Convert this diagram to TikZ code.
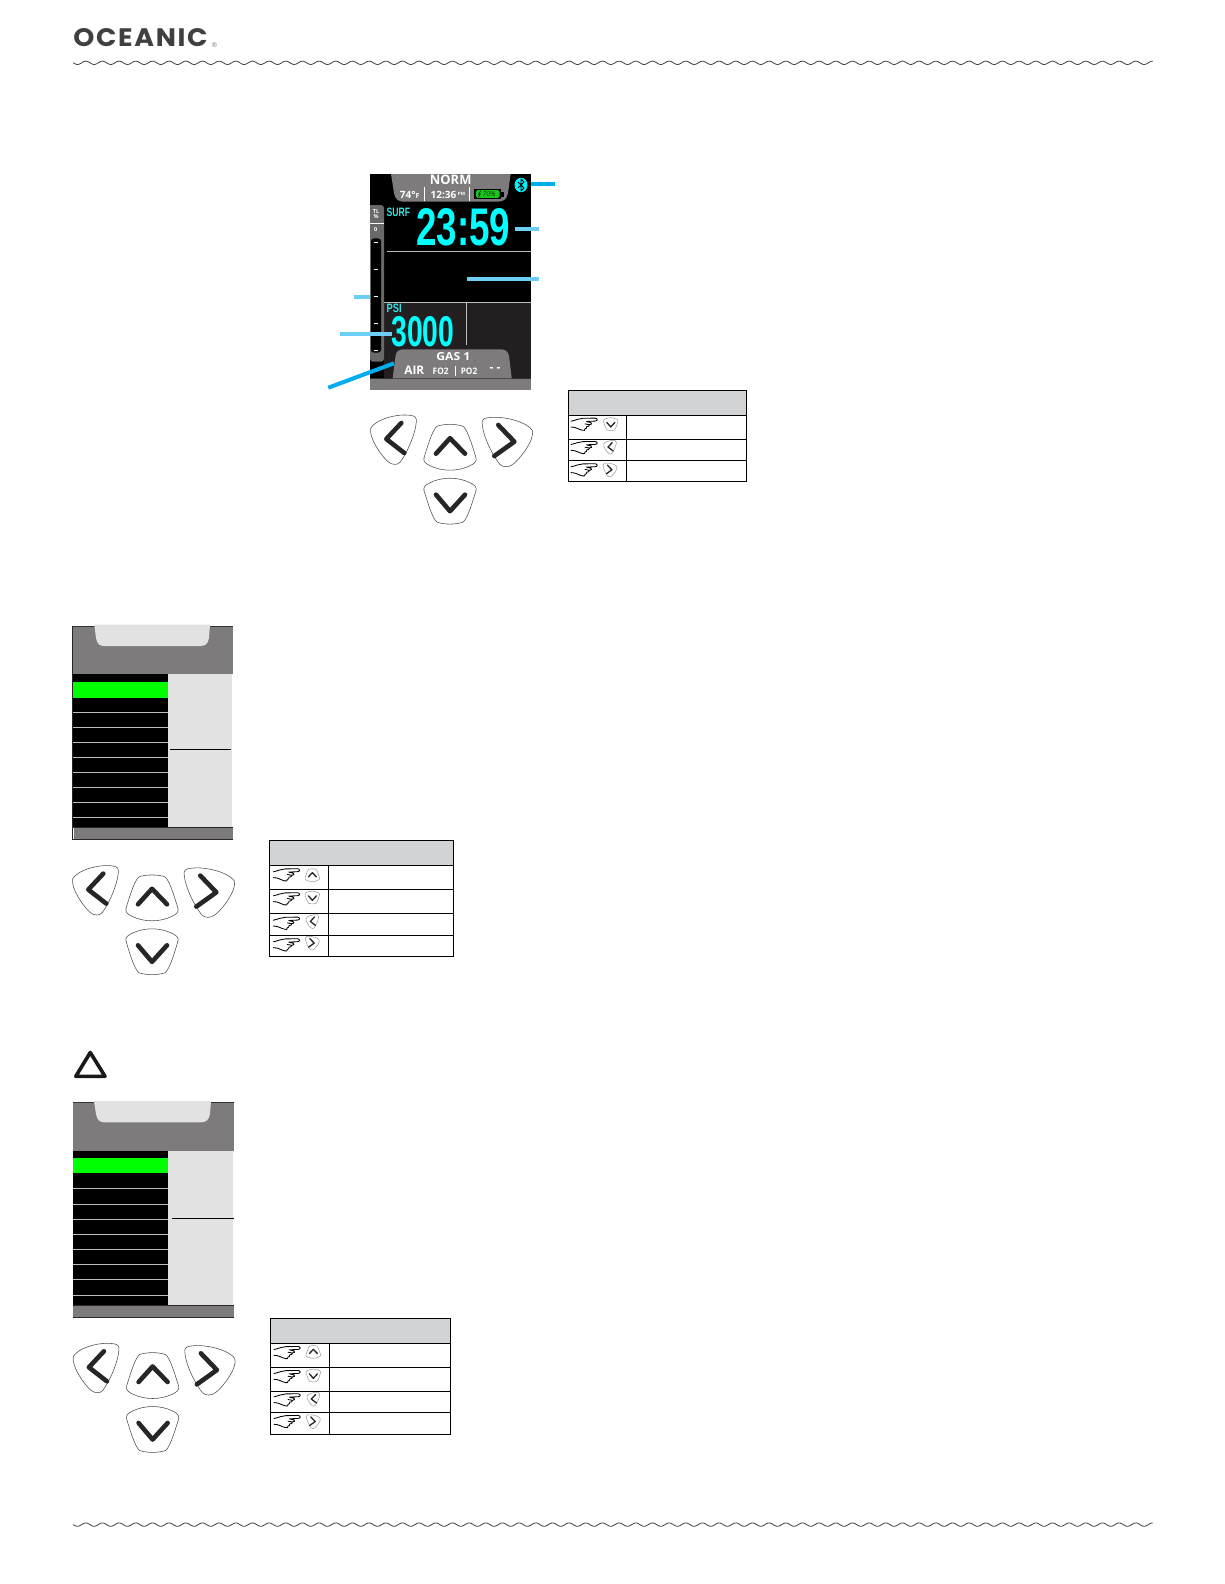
\documentclass[tikz,border=0pt]{standalone}
\usepackage{fontspec}
\setmainfont{Open Sans}
\newfontfamily\logofont[LetterSpace=6]{Poppins}
\newfontfamily\digitfont{Liberation Sans}
\definecolor{scrgrey}{HTML}{7D7B7B}
\definecolor{panelgrey}{HTML}{E2E2E2}
\definecolor{headgrey}{HTML}{D1D3D4}
\definecolor{dkpanel}{HTML}{231F20}
\definecolor{cyanb}{HTML}{00FFFF}
\definecolor{cyans}{HTML}{2FE6E6}
\definecolor{calldark}{HTML}{00AEEF}
\definecolor{calllight}{HTML}{6DCFF6}
\definecolor{inkgrey}{HTML}{404041}
\definecolor{rowline}{HTML}{BDBDBD}
\newcommand{\fitt}[3]{\resizebox{#1pt}{#2pt}{#3}}
\newcommand{\sidekey}{\draw[keyoutline] (-22.5,-12) .. controls (-18,-20) and (3,-27) .. (18,-24.5) .. controls (22,-24) and (23.5,-22) .. (23,-18) .. controls (22,-5) and (13,14) .. (7,22) .. controls (4,25.5) and (-1,25) .. (-5,22) .. controls (-12,16) and (-25,-3) .. (-22.5,-12) -- cycle;}
\newcommand{\vertkey}{\draw[keyoutline] (-13,-20.5) .. controls (-5,-23) and (5,-23) .. (13,-20.5) .. controls (18,-17) and (24,5) .. (26,11) .. controls (27,15) and (24,17) .. (20,19) .. controls (8,25) and (-8,25) .. (-20,19) .. controls (-24,17) and (-27,15) .. (-26,11) .. controls (-24,5) and (-18,-17) .. (-13,-20.5) -- cycle;}
\newcommand{\keyLeft}[4]{\begin{scope}[shift={(#1,#2)},xscale=#3,yscale=#3]
\sidekey
\draw[keymark,line width=#4pt] (8,-17) -- (-7,-1) -- (11,13);
\end{scope}}
\newcommand{\keyRight}[4]{\begin{scope}[shift={(#1,#2)},xscale=-1.1*#3,yscale=#3]
\sidekey
\draw[keymark,line width=#4pt] (8.4,-17.3) -- (-6.2,-0.6) -- (12,13.7);
\end{scope}}
\newcommand{\keyUp}[4]{\begin{scope}[shift={(#1,#2)},xscale=#3,yscale=#3]
\vertkey
\draw[keymark,line width=#4pt] (-14,7) -- (0,-8.5) -- (15,7);
\end{scope}}
\newcommand{\keyDown}[4]{\begin{scope}[shift={(#1,#2)},xscale=#3,yscale=-#3]
\vertkey
\draw[keymark,line width=#4pt] (-14,7) -- (0,-9.5) -- (15,7);
\end{scope}}
\newcommand{\keypad}[2]{\begin{scope}[shift={(#1,#2)}]
\keyLeft{393.3}{440}{1}{4.6}
\keyRight{507.5}{442.3}{1}{4.6}
\keyUp{450}{446.7}{1}{4.6}
\keyDown{450}{501.7}{1}{4.6}
\end{scope}}
\newcommand{\handicon}[2]{\begin{scope}[shift={(#1,#2)}]
\draw[line width=0.85pt,black,line cap=round,line join=round]
 (0,3.5) .. controls (5,2.5) and (8,0.6) .. (12,0.6) -- (24,0.4) .. controls (27,0.6) and (27,3.4) .. (24,3.4) -- (15.5,3.8)
 (15.5,3.8) -- (20,5) .. controls (21.5,5.6) and (20.5,7.2) .. (18.5,7)
 (18.5,7) -- (14,6.2) (18.5,7) .. controls (18.5,8.5) and (17,9) .. (15.8,8.8)
 (15.8,8.8) .. controls (16,10.4) and (15,11) .. (14,11) .. controls (14.5,12.6) and (13,13.2) .. (11.5,12.6) .. controls (7,11.5) and (5,9.3) .. (0,9.3);
\end{scope}}
\newcommand{\wavy}[1]{\draw[line width=0.8pt,inkgrey] plot[domain=73.3:1152.7,samples=700] (\x,{#1+1.7*sin(21.6*mod(\x-73.3,16.6667))});}
\tikzset{
 keyoutline/.style={draw=black!70,line width=0.55pt,fill=white},
 keymark/.style={draw=inkgrey!60!black,line cap=round,line join=round},
 tblline/.style={draw=black,line width=0.9pt},
 call/.style={line width=4pt},
 txt/.style={inner sep=0pt,outer sep=0pt,anchor=center},
 rowsep/.style={draw=rowline,line width=0.8pt},
 minikeys/.style={keyoutline/.style={draw=black!40,line width=0.5pt,fill=white}},
}
\begin{document}
\begin{tikzpicture}[x=1pt,y=-1pt]
\useasboundingbox (0,0) rectangle (1224,1584);
\fill[white] (0,0) rectangle (1224,1584);
% header
\node[txt,text=inkgrey] (logo) at (140.5,38) {\fitt{134}{18}{\logofont\bfseries OCEANIC}};
\node[txt,text=black!55] (regmark) at (214.5,45.5) {\fontsize{7}{7}\selectfont\digitfont ®};
\wavy{62.8}
\wavy{1524.6}
% main screen
\fill[black] (370,174) rectangle (531,378.3);
\fill[dkpanel] (384,302) rectangle (531,378.3);
\fill[scrgrey] (370,378.3) rectangle (531,390);
\draw[line width=0.8pt,black!60!scrgrey] (370,378.6) -- (531,378.6);
\fill[scrgrey] (391,174) -- (394,193) .. controls (395,199) and (398,201.7) .. (404,201.7) -- (497,201.7) .. controls (504,201.7) and (507,199) .. (508,193) -- (510.7,174) -- cycle;
\node[txt,white] (norm) at (450.7,180) {\fitt{41.5}{9.5}{\bfseries NORM}};
\node[txt,white] (temp) at (409.7,194.5) {\fontsize{10}{11}\selectfont\bfseries 74°\fontsize{7}{8}\selectfont F};
\draw[white,line width=0.9pt] (424.7,186.7) -- (424.7,200.7) (469.3,186.7) -- (469.3,200.7);
\node[txt,white] (clock) at (447.8,194.5) {\fontsize{10}{11}\selectfont\bfseries 12:36\,\raisebox{2.5pt}{\fontsize{4.5}{5}\selectfont PM}};
\fill[black] (474.3,189) rectangle (501,199);
\fill[black] (500,191.5) rectangle (503.5,196.5);
\fill[green!75!black!90!white,rounded corners=1.5pt] (475.8,190.2) rectangle (499.6,197.8);
\node[txt,black!85] (batt) at (489,194) {\fontsize{6.8}{7}\selectfont\itshape 70\%};
\draw[black,line width=0.6pt] (480.5,190.8) -- (478.6,194.3) -- (480.2,194) -- (478.4,197.2);
% bluetooth
\fill[cyanb!85!calldark] (521,185) ellipse (6.5 and 7.2);
\draw[black,line width=0.8pt,line join=round] (518,182) -- (524,188) -- (521,191) -- (521,179) -- (524,182) -- (518,188);
% TL bar
\fill[scrgrey!85!black] (370,205) [rounded corners=3pt] -- (384,205) -- (384,361.7) -- (370,361.7) [sharp corners] -- cycle;
\node[txt,white] (tl) at (376,214.2) {\parbox{12pt}{\centering\fontsize{5.5}{4.6}\selectfont\bfseries TL\\[0.4pt]\%}};
\draw[white,line width=0.8pt] (370,223.3) -- (384,223.3);
\node[txt,white] (zero) at (375.7,229.5) {\fontsize{5.5}{6}\selectfont\bfseries 0};
\fill[black,rounded corners=3pt] (371,238.3) rectangle (381,352.7);
\draw[white,line width=1pt] (373.7,242.3) -- (378.3,242.3) (373.7,269.3) -- (378.3,269.3) (373.7,296.7) -- (378.3,296.7) (373.7,323.3) -- (378.3,323.3) (373.7,350) -- (378.3,350);
% readings
\node[txt,cyans] (surf) at (398.4,212.5) {\fitt{23.5}{8.5}{\digitfont\bfseries SURF}};
\node[txt,cyanb] (time) at (463.3,227.6) {\fitt{94}{37}{\digitfont\bfseries 23:59}};
\draw[rowline,line width=0.9pt] (386.7,251.3) -- (531,251.3);
\draw[rowline,line width=1pt] (384,302) -- (531,302);
\node[txt,cyans] (psi) at (394.2,308.8) {\fitt{15}{8.5}{\digitfont\bfseries PSI}};
\node[txt,cyanb] (pressure) at (423,331.6) {\fitt{63}{30}{\digitfont\bfseries 3000}};
\draw[rowline,line width=0.9pt] (466.3,302) -- (466.3,345);
% gas tab
\fill[scrgrey] (392.7,378.3) -- (395.5,356) .. controls (396.3,351) and (399,349.3) .. (404,349.3) -- (500,349.3) .. controls (505,349.3) and (508,351) .. (509,356) -- (511.7,378.3) -- cycle;
\node[txt,white] (gas) at (453.3,357) {\fitt{34}{8}{\bfseries GAS 1}};
\node[txt,white] (air) at (414.3,370) {\fitt{20}{8.5}{\bfseries AIR}};
\node[txt,white] (fo) at (440.7,371) {\fitt{16}{6.5}{\bfseries FO2}};
\draw[white,line width=0.8pt] (455.3,366) -- (455.3,376);
\node[txt,white] (po) at (469,371) {\fitt{16.5}{6.5}{\bfseries PO2}};
\node[txt,white] (dash) at (495,370) {\fontsize{12}{12}\selectfont\bfseries - -};
% callouts
\draw[call,calldark] (531,183.7) -- (555,183.7);
\draw[call,calllight] (515,228.7) -- (539,228.7);
\draw[call,calllight] (466.7,278.7) -- (539,278.7);
\draw[call,calllight] (354,296.7) -- (370,296.7);
\draw[call,calllight] (340,333.7) -- (391.7,333.7);
\draw[call,calldark] (328.3,387.7) -- (394,363.3);
% keypads
\keypad{0}{0}
\keypad{-298}{450.6}
\keypad{-297.4}{928.3}
\begin{scope}[minikeys]
% table 1
\fill[headgrey] (568.3,390.7) rectangle (746.7,415);
\draw[tblline] (568.3,390.7) rectangle (746.7,481.3);
\draw[tblline] (568.3,415) -- (746.7,415) (568.3,439.3) -- (746.7,439.3) (568.3,460.3) -- (746.7,460.3) (626.3,415) -- (626.3,481.3);
\handicon{571}{417.7}\handicon{571}{441}\handicon{571}{463.3}
\keyDown{610.7}{424.3}{0.28}{1.3}
\keyLeft{610}{447.3}{0.28}{1.3}
\keyRight{610}{470}{0.28}{1.3}
% table 2
\fill[headgrey] (269.3,840.3) rectangle (453.7,865.3);
\draw[tblline] (269.3,840.3) rectangle (453.7,956.3);
\draw[tblline] (269.3,865.3) -- (453.7,865.3) (269.3,889) -- (453.7,889) (269.3,913.3) -- (453.7,913.3) (269.3,935) -- (453.7,935) (328.3,865.3) -- (328.3,956.3);
\handicon{273.3}{868.3}\handicon{273.3}{892.3}\handicon{273.3}{916.7}\handicon{273.3}{938.3}
\keyUp{312.3}{875}{0.28}{1.3}
\keyDown{312.3}{897.7}{0.28}{1.3}
\keyLeft{312.3}{921.7}{0.28}{1.3}
\keyRight{312.3}{943.3}{0.28}{1.3}
% table 3
\fill[headgrey] (270.3,1318.3) rectangle (450.3,1343.3);
\draw[tblline] (270.3,1318.3) rectangle (450.3,1434.3);
\draw[tblline] (270.3,1343.3) -- (450.3,1343.3) (270.3,1367.3) -- (450.3,1367.3) (270.3,1391.3) -- (450.3,1391.3) (270.3,1412.3) -- (450.3,1412.3) (329.3,1343.3) -- (329.3,1434.3);
\handicon{274}{1346}\handicon{274}{1370}\handicon{274}{1393.3}\handicon{274}{1415}
\keyUp{313.3}{1351.7}{0.28}{1.3}
\keyDown{313.3}{1375.7}{0.28}{1.3}
\keyLeft{313.3}{1399.3}{0.28}{1.3}
\keyRight{313.3}{1421.7}{0.28}{1.3}
\end{scope}
% menu screen 2
\fill[scrgrey] (72.3,626) rectangle (232.7,674);
\draw[black!80,line width=0.8pt] (72.3,626) -- (232.7,626);
\fill[panelgrey] (94.3,624.5) -- (96,638) .. controls (97,644) and (100,646) .. (104,646) -- (200,646) .. controls (205,646) and (208,644) .. (209,638) -- (210,624.5) -- cycle;
\fill[black] (72.3,674) rectangle (168.3,827.3);
\fill[panelgrey] (168.3,674) rectangle (232,827.3);
\fill[green] (72.3,682.3) rectangle (168.3,697.7);
\draw[rowsep] (72.3,712.3) -- (168.3,712.3) (72.3,727.3) -- (168.3,727.3) (72.3,742.3) -- (168.3,742.3) (72.3,757.3) -- (168.3,757.3) (72.3,772.3) -- (168.3,772.3) (72.3,787.3) -- (168.3,787.3) (72.3,802.3) -- (168.3,802.3) (72.3,817.3) -- (168.3,817.3);
\draw[black,line width=0.8pt] (170,749.3) -- (231,749.3);
\fill[scrgrey] (73.5,827.3) rectangle (232.7,839);
\draw[black!85,line width=0.8pt] (72.8,626) -- (72.8,839) -- (232.7,839) (72.3,827.3) -- (232.7,827.3);
% menu screen 3
\draw[black!90,line width=3.6pt,line join=round] (90.3,1052.5) -- (75.8,1076.3) -- (105,1076.3) -- cycle;
\fill[scrgrey] (72.7,1102) rectangle (233.7,1151);
\draw[black!80,line width=0.8pt] (72.7,1102) -- (233.7,1102);
\fill[panelgrey] (94,1101) -- (96,1114) .. controls (97,1120) and (100,1122.3) .. (104,1122.3) -- (201,1122.3) .. controls (206,1122.3) and (209,1120) .. (210,1114) -- (211,1101) -- cycle;
\fill[black] (72.7,1151) rectangle (168.3,1305.3);
\fill[panelgrey] (168.3,1151) rectangle (233.3,1305.3);
\fill[green] (72.7,1158.3) rectangle (168.3,1173.3);
\draw[rowsep] (72.7,1188.7) -- (168.3,1188.7) (72.7,1204) -- (168.3,1204) (72.7,1219.3) -- (168.3,1219.3) (72.7,1234.3) -- (168.3,1234.3) (72.7,1249.3) -- (168.3,1249.3) (72.7,1264.7) -- (168.3,1264.7) (72.7,1279.3) -- (168.3,1279.3) (72.7,1295.3) -- (168.3,1295.3);
\draw[black,line width=0.8pt] (172,1218.3) -- (233.7,1218.3);
\fill[scrgrey] (72.7,1305.3) rectangle (233.7,1317.3);
\draw[black!85,line width=0.8pt] (72.7,1305.3) -- (233.7,1305.3) (72.7,1317.3) -- (233.7,1317.3);
\end{tikzpicture}
\end{document}
